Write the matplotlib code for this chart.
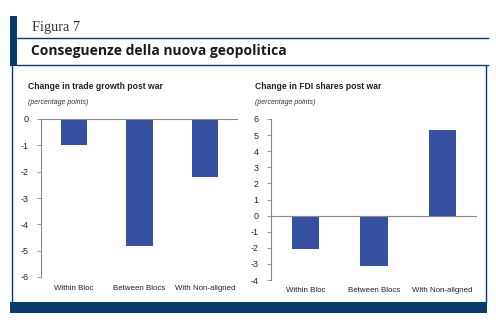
import matplotlib
matplotlib.use("Agg")
import matplotlib.pyplot as plt
import matplotlib.transforms as mtransforms
from matplotlib.patches import Rectangle
from matplotlib.lines import Line2D

categories = ["Within Bloc", "Between Blocs", "With Non-aligned"]
trade_values = [-1.0, -4.83, -2.2]
fdi_values = [-2.1, -3.15, 5.3]
trade_ticks = [0, -1, -2, -3, -4, -5, -6]
fdi_ticks = [6, 5, 4, 3, 2, 1, 0, -1, -2, -3, -4]

W, H = 496, 325
fig = plt.figure(figsize=(W / 100, H / 100), dpi=100)
fig.patch.set_facecolor("white")

navy = "#0b3a6b"
bar_color = "#3650a2"
sans = "Liberation Sans"

def fx(px):
    return px / W

def fy(py):
    return 1 - py / H

# header decorations
fig.add_artist(Rectangle((fx(10), fy(66)), fx(7), (66 - 16) / H, transform=fig.transFigure,
                         facecolor=navy, edgecolor="none"))
fig.add_artist(Line2D([fx(17), fx(488)], [fy(38), fy(38)], transform=fig.transFigure, color=navy, lw=1))
fig.add_artist(Line2D([fx(17), fx(488)], [fy(65), fy(65)], transform=fig.transFigure, color=navy, lw=1))
fig.text(fx(32), fy(27), "Figura 7", fontsize=10.3, family="Liberation Serif", color="#333333", va="center")
fig.text(fx(31), fy(51), "Conseguenze della nuova geopolitica", fontsize=10, fontweight="bold",
         family="Open Sans", color="#1a1a1a", va="center")
# panel box
fig.add_artist(Line2D([fx(12), fx(12)], [fy(66), fy(303)], transform=fig.transFigure, color=navy, lw=1))
fig.add_artist(Line2D([fx(486), fx(486)], [fy(66), fy(303)], transform=fig.transFigure, color=navy, lw=1))
fig.add_artist(Rectangle((fx(10), fy(313)), fx(477), 11 / H, transform=fig.transFigure,
                         facecolor=navy, edgecolor="none"))

def panel(rect, values, ticks, ylim, title, title_x, label_y):
    ax = fig.add_axes(rect)
    x = list(range(len(categories)))
    ax.bar(x, values, width=0.4, color=bar_color)
    ax.set_xlim(-0.5, 2.5)
    ax.set_ylim(*ylim)
    ax.axhline(0, color="#888888", lw=0.8)
    for s in ["top", "right", "bottom"]:
        ax.spines[s].set_visible(False)
    ax.spines["left"].set_color("#888888")
    ax.spines["left"].set_linewidth(0.8)
    ax.set_yticks(ticks)
    ax.set_yticklabels([str(t) for t in ticks], family=sans)
    ax.tick_params(axis="y", length=3, width=0.6, color="#888888", labelsize=6.5, pad=6,
                   labelcolor="#222222")
    ax.set_xticks([])
    ax.set_facecolor("none")
    trans = mtransforms.blended_transform_factory(ax.transData, fig.transFigure)
    for xi, c in zip(x, categories):
        ax.text(xi, fy(label_y), c, transform=trans, fontsize=5.7, family=sans, color="#222222",
                ha="center", va="center")
    fig.text(fx(title_x), fy(86), title, fontsize=6.2, fontweight="bold", family=sans,
             color="#222222", va="center")
    fig.text(fx(title_x), fy(102), "(percentage points)", fontsize=5, style="italic", family=sans,
             color="#333333", va="center")
    return ax

axL = panel([fx(41), fy(277), fx(238 - 41), (277 - 119) / H], trade_values, trade_ticks, (-6, 0),
            "Change in trade growth post war", 28, 288)
axR = panel([fx(271), fy(280), fx(477 - 271), (280 - 119) / H], fdi_values, fdi_ticks, (-4, 6),
            "Change in FDI shares post war", 255, 290)

fig.savefig("out.png", dpi=100, facecolor="white")
